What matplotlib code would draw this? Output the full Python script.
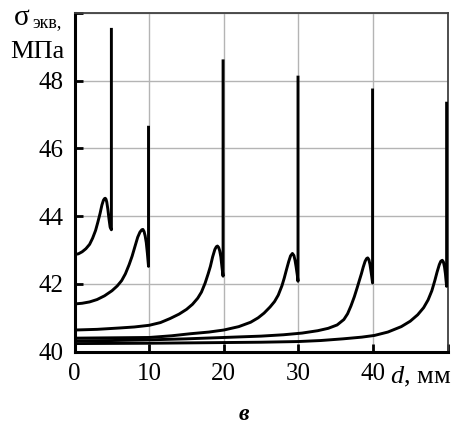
import matplotlib
matplotlib.use("Agg")
import matplotlib.pyplot as plt

plt.rcParams['font.family'] = ['Liberation Serif', 'DejaVu Serif']
plt.rcParams['mathtext.fontset'] = 'custom'
plt.rcParams['mathtext.it'] = 'Liberation Serif:italic'
plt.rcParams['mathtext.rm'] = 'Liberation Serif'

# curves, one per resonance position d0 = 5, 10, 20, 30, 40, 50 mm
d_5 = [0, 0.5, 1.0, 1.5, 2.0, 2.4, 2.8, 3.1, 3.4, 3.65, 3.85, 4.0, 4.1, 4.2, 4.3, 4.45, 4.6, 4.75,
       4.92, 4.92]
s_5 = [42.87, 42.89, 42.95, 43.04, 43.17, 43.35, 43.58, 43.82, 44.08, 44.33, 44.47, 44.52, 44.53,
       44.5, 44.42, 44.2, 43.92, 43.68, 43.6, 49.56]

d_10 = [0, 1, 2, 3, 4, 5, 5.7, 6.3, 6.8, 7.3, 7.7, 8.1, 8.45, 8.75, 9.0, 9.15, 9.3, 9.45, 9.6, 9.75,
        9.9, 9.9]
s_10 = [41.41, 41.43, 41.47, 41.54, 41.65, 41.8, 41.94, 42.1, 42.3, 42.57, 42.82, 43.12, 43.38,
        43.53, 43.6, 43.61, 43.55, 43.42, 43.22, 42.9, 42.52, 46.67]

d_20 = [0, 3, 6, 8, 10, 11.5, 12.8, 14, 15, 15.8, 16.5, 17, 17.5, 17.9, 18.2, 18.5, 18.8, 19.0,
        19.15, 19.3, 19.45, 19.6, 19.75, 19.9, 19.9]
s_20 = [40.64, 40.66, 40.7, 40.73, 40.78, 40.86, 40.98, 41.11, 41.25, 41.4, 41.58, 41.76, 42.03,
        42.3, 42.52, 42.8, 43.02, 43.1, 43.12, 43.08, 42.98, 42.8, 42.5, 42.23, 48.63]

d_30 = [0, 5, 10, 13, 15.5, 18, 20, 22, 23.6, 24.6, 25.4, 26.2, 26.8, 27.3, 27.8, 28.1, 28.4, 28.7,
        28.95, 29.2, 29.4, 29.55, 29.7, 29.85, 29.95, 29.95]
s_30 = [40.40, 40.41, 40.42, 40.47, 40.53, 40.58, 40.64, 40.74, 40.87, 41.0, 41.14, 41.32, 41.48,
        41.67, 41.95, 42.17, 42.42, 42.66, 42.83, 42.9, 42.84, 42.7, 42.5, 42.27, 42.08, 48.15]

d_40 = [0, 5, 10, 15, 20, 25, 28, 30.5, 32.6, 34, 35.2, 36.1, 36.6, 37.05, 37.5, 37.9, 38.2, 38.45,
        38.7, 38.95, 39.15, 39.3, 39.45, 39.6, 39.75, 39.85, 39.95, 39.95]
s_40 = [40.32, 40.33, 40.35, 40.38, 40.42, 40.46, 40.5, 40.55, 40.62, 40.69, 40.79, 40.95, 41.12,
        41.35, 41.62, 41.9, 42.12, 42.3, 42.5, 42.67, 42.75, 42.77, 42.72, 42.58, 42.36, 42.2, 42.03,
        47.77]

d_50 = [0, 10, 20, 25, 30, 33, 36, 38.5, 40.2, 42, 43.8, 45, 46.0, 46.8, 47.4, 47.9, 48.3, 48.6,
        48.9, 49.1, 49.3, 49.45, 49.6, 49.72, 49.88, 49.88]
s_50 = [40.24, 40.25, 40.27, 40.28, 40.3, 40.33, 40.38, 40.43, 40.48, 40.58, 40.74, 40.9, 41.09,
        41.3, 41.53, 41.8, 42.1, 42.35, 42.57, 42.67, 42.7, 42.65, 42.5, 42.3, 41.93, 47.38]

curves = [(d_5, s_5), (d_10, s_10), (d_20, s_20), (d_30, s_30), (d_40, s_40), (d_50, s_50)]

x_ticks = [0, 10, 20, 30, 40, 50]
x_labels = ['0', '10', '20', '30', '40', '']
y_ticks = [40, 42, 44, 46, 48, 50]
y_labels = ['40', '42', '44', '46', '48', '']

W, H = 459, 425
fig = plt.figure(figsize=(W / 100, H / 100), dpi=100)
ax = fig.add_axes([74.7 / W, 1 - 351.7 / H, (447.5 - 74.7) / W, (351.7 - 13) / H])

for d, s in curves:
    ax.plot(d, s, color='black', lw=2.1, solid_joinstyle='round', solid_capstyle='butt', zorder=3)

ax.set_xlim(0, 50)
ax.set_ylim(40, 50)
ax.set_xticks(x_ticks)
ax.set_xticklabels(x_labels)
ax.set_yticks(y_ticks)
ax.set_yticklabels(y_labels)
ax.grid(True, color='#b4b4b4', lw=1.0, zorder=1)
ax.tick_params(direction='in', length=6, width=2, labelsize=18, pad=8, colors='black')

for side in ['left', 'bottom']:
    ax.spines[side].set_linewidth(2.2)
    ax.spines[side].set_color('black')
for side in ['top', 'right']:
    ax.spines[side].set_linewidth(1.3)
    ax.spines[side].set_color('#404040')

# axis captions drawn as free text, like in the source figure
fig.text(14 / W, 1 - 18 / H, 'σ', fontsize=21, ha='left', va='center')
fig.text(32 / W, 1 - 23 / H, 'экв,', fontsize=13, ha='left', va='center')
fig.text(64 / W, 1 - 52 / H, 'МПа', fontsize=19, ha='right', va='center')
fig.text(390 / W, 1 - 377 / H, '$d$, мм', fontsize=19, ha='left', va='center')
fig.text(244 / W, 1 - 415 / H, 'в', fontsize=17, fontweight='bold', fontstyle='italic',
         ha='center', va='center')

plt.savefig('out.png', dpi=100)
